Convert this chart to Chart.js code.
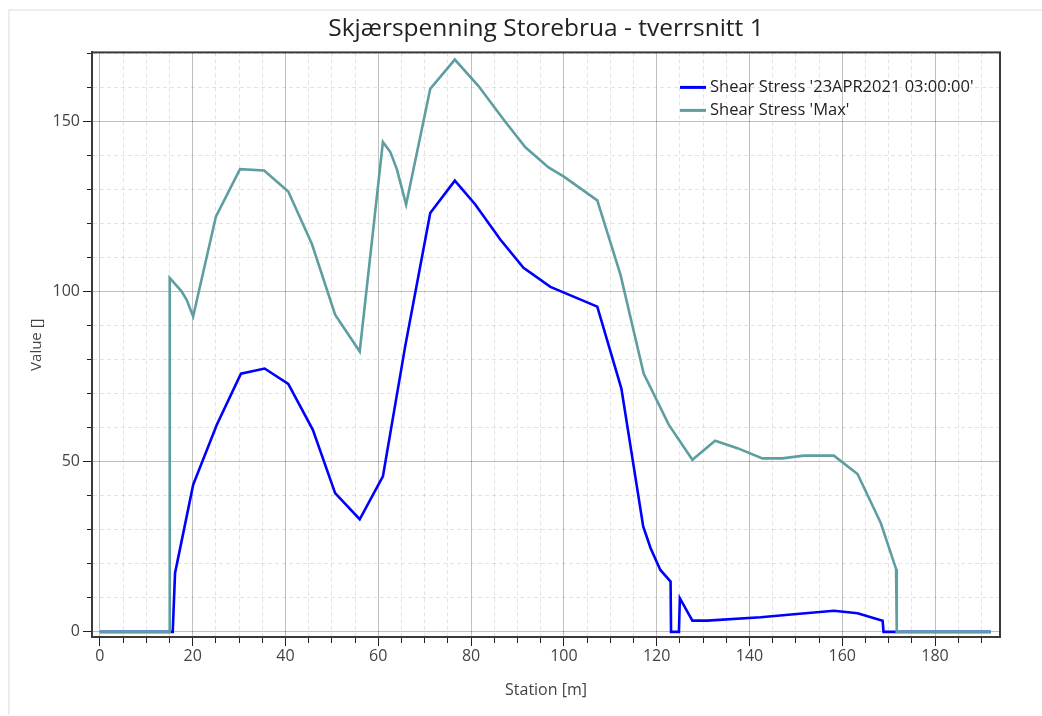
<!DOCTYPE html>
<html>
<head>
<meta charset="utf-8">
<script src="https://cdn.jsdelivr.net/npm/chart.js@4/dist/chart.umd.min.js"></script>
<style>
  html, body { margin: 0; padding: 0; background: #fff; }
  #frame { position: absolute; left: 8px; top: 9px; width: 1034px; height: 706px;
           border-top: 2px solid #ededed; border-left: 2px solid #ededed; box-sizing: border-box; }
  #wrap { position: absolute; left: 0; top: 0; width: 1042px; height: 716px; }
</style>
</head>
<body>
<div id="frame"></div>
<div id="wrap"><canvas id="shearChart" width="1042" height="716"></canvas></div>
<script>
// Shear Stress 'Max'
const maxStation = [0, 15.0, 15.05, 17.6, 18.7, 20.1, 25.0, 30.2, 35.4, 40.6, 45.7, 50.7, 56.0, 61.0, 62.6, 64.0, 66.0,
    71.2, 76.5, 81.6, 87.0, 91.7, 96.7, 100.0, 107.2, 112.2, 117.2, 122.6, 127.7, 132.6, 137.4, 142.8, 147.1,
    151.7, 158.2, 163.3, 168.3, 171.6, 171.75, 192.0];
const maxValue = [0, 0, 104, 100.1, 97.6, 92.7, 122, 136, 135.6, 129.4, 114, 93.2, 82.4, 144, 141, 136, 125.6,
    159.6, 168.2, 160.4, 150.6, 142.4, 136.5, 133.8, 126.8, 105, 75.9, 60.9, 50.6, 56.2, 54, 51, 51,
    51.8, 51.8, 46.4, 32, 18.5, 0, 0];

// Shear Stress '23APR2021 03:00:00'
const curStation = [0, 15.7, 16.2, 20.1, 25.2, 30.4, 35.5, 40.6, 45.9, 50.7, 56.0, 61.0, 65.8, 71.2, 76.5, 80.9,
    86.3, 91.3, 97.1, 107.2, 112.4, 117.1, 118.7, 120.8, 123.0, 123.1, 124.8, 125.0, 127.7, 130.9, 142.4,
    149.6, 158.2, 163.3, 168.7, 168.9, 192.0];
const curValue = [0, 0, 17.3, 43.2, 60.9, 75.9, 77.4, 72.9, 59.4, 40.8, 33.1, 45.7, 83.9, 123.1, 132.6, 125.6,
    115.3, 107, 101.4, 95.6, 71.5, 31, 24.6, 18.2, 14.8, 0, 0, 9.9, 3.3, 3.3, 4.3,
    5.2, 6.2, 5.5, 3.3, 0, 0];

const seriesNames = ["Shear Stress '23APR2021 03:00:00'", "Shear Stress 'Max'"];
const seriesColors = ['#0000ff', '#5f9ea0'];

const toPoints = (xs, ys) => xs.map((x, i) => ({x: x, y: ys[i]}));

const FONT = '"Open Sans", "Noto Sans", sans-serif';

// minor/major grid helpers
const isMajor = (v, step) => Math.abs(v / step - Math.round(v / step)) < 1e-6;

// plot frame (top/right edges) + legend inside plot
const framePlugin = {
    id: 'framePlugin',
    afterDraw(chart) {
        const {ctx, chartArea: a} = chart;
        ctx.save();
        ctx.strokeStyle = '#3a3a3a';
        ctx.lineWidth = 2;
        ctx.strokeRect(a.left, a.top, a.right - a.left, a.bottom - a.top);

        // legend
        ctx.font = '16.5px ' + FONT;
        ctx.textBaseline = 'middle';
        ctx.fillStyle = '#222';
        seriesNames.forEach((name, i) => {
            const y = a.top + 35 + i * 23;
            const x = a.right - 320;
            ctx.strokeStyle = seriesColors[i];
            ctx.lineWidth = 3;
            ctx.beginPath();
            ctx.moveTo(x, y);
            ctx.lineTo(x + 26, y);
            ctx.stroke();
            ctx.fillText(name, x + 30, y);
        });
        ctx.restore();
    }
};

const ctx = document.getElementById('shearChart').getContext('2d');
const shearChart = new Chart(ctx, {
    type: 'line',
    data: {
        datasets: [{
            label: seriesNames[0],
            data: toPoints(curStation, curValue),
            borderColor: seriesColors[0],
            borderWidth: 2.6,
            pointRadius: 0,
            tension: 0,
            order: 2
        }, {
            label: seriesNames[1],
            data: toPoints(maxStation, maxValue),
            borderColor: seriesColors[1],
            borderWidth: 2.6,
            pointRadius: 0,
            tension: 0,
            order: 1
        }]
    },
    options: {
        responsive: false,
        animation: false,
        layout: { padding: { top: 0, left: 12, right: 42, bottom: 10 } },
        plugins: {
            legend: { display: false },
            tooltip: { enabled: false },
            title: {
                display: true,
                fullSize: false,
                text: 'Skjærspenning Storebrua - tverrsnitt 1',
                color: '#222',
                font: { family: FONT, size: 24.5, weight: 'normal' },
                padding: { top: 14, bottom: 9 }
            }
        },
        scales: {
            x: {
                type: 'linear',
                min: -1.7,
                max: 194,
                afterFit: (s) => { s.height = 69; },
                title: {
                    display: true,
                    text: 'Station [m]',
                    color: '#444',
                    font: { family: FONT, size: 16 },
                    padding: { top: 0, bottom: 6 }
                },
                ticks: {
                    stepSize: 5,
                    includeBounds: false,
                    autoSkip: false,
                    maxRotation: 0,
                    color: '#444',
                    padding: 1,
                    font: { family: FONT, size: 16 },
                    callback: (v) => isMajor(v, 20) ? v : ''
                },
                grid: {
                    color: (c) => c.tick && isMajor(c.tick.value, 20) ? 'rgba(0,0,0,0.25)' : 'rgba(0,0,0,0.11)',
                    lineWidth: 1,
                    tickColor: '#222',
                    tickLength: 9,
                    tickBorderDash: (c) => c.tick && isMajor(c.tick.value, 20) ? [] : [5, 30]
                },
                border: {
                    color: '#3a3a3a',
                    width: 2,
                    dash: (c) => c.tick && !isMajor(c.tick.value, 20) ? [4, 3] : []
                }
            },
            y: {
                type: 'linear',
                min: -1.5,
                max: 170.3,
                afterFit: (s) => { s.width = 80; },
                title: {
                    display: true,
                    text: 'Value []',
                    color: '#444',
                    font: { family: FONT, size: 15 },
                    padding: { top: 16, bottom: 0 }
                },
                ticks: {
                    stepSize: 10,
                    includeBounds: false,
                    autoSkip: false,
                    color: '#444',
                    padding: 3,
                    font: { family: FONT, size: 16 },
                    callback: (v) => isMajor(v, 50) ? v : ''
                },
                grid: {
                    color: (c) => c.tick && isMajor(c.tick.value, 50) ? 'rgba(0,0,0,0.25)' : 'rgba(0,0,0,0.11)',
                    lineWidth: 1,
                    tickColor: '#222',
                    tickLength: 9,
                    tickBorderDash: (c) => c.tick && isMajor(c.tick.value, 50) ? [] : [0, 4, 5, 30]
                },
                border: {
                    color: '#3a3a3a',
                    width: 2,
                    dash: (c) => c.tick && !isMajor(c.tick.value, 50) ? [4, 3] : []
                }
            }
        }
    },
    plugins: [framePlugin]
});
</script>
</body>
</html>
